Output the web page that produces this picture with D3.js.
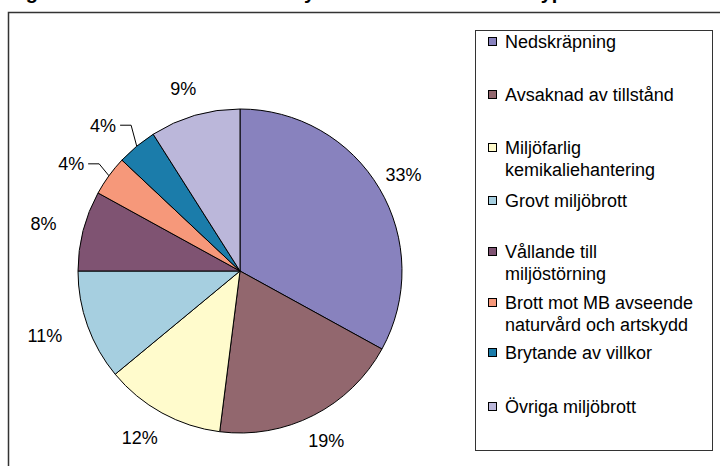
<!DOCTYPE html>
<html><head><meta charset="utf-8">
<script src="https://cdn.jsdelivr.net/npm/d3@7"></script>
<style>body{margin:0;background:#fff}svg{display:block}text{font-family:Arial,"Liberation Sans",sans-serif}</style>
</head><body>
<svg id="c" width="720" height="466"></svg>
<script>
const titleText = "Figur 4. Anmälda brott från tillsyn fördelade efter brottstyp";
const categories = ["Nedskräpning","Avsaknad av tillstånd","Miljöfarlig kemikaliehantering","Grovt miljöbrott","Vållande till miljöstörning","Brott mot MB avseende naturvård och artskydd","Brytande av villkor","Övriga miljöbrott"];
const legendLines = [["Nedskräpning"],["Avsaknad av tillstånd"],["Miljöfarlig","kemikaliehantering"],["Grovt miljöbrott"],["Vållande till","miljöstörning"],["Brott mot MB avseende","naturvård och artskydd"],["Brytande av villkor"],["Övriga miljöbrott"]];
const values = [33,19,12,11,8,4,4,9];
const colors = ["#8882BE","#92676E","#FFFBCC","#A6CFE0","#7F5372","#F6987A","#1B7CAA","#BBB7DA"];

const svg = d3.select("#c");
// title (mostly clipped at top)
svg.append("text").attr("x",8).attr("y",-1).attr("font-size",20).attr("font-weight","bold").attr("fill","#000").text(titleText);
// chart border
svg.append("rect").attr("x",8.5).attr("y",12.5).attr("width",760).attr("height",500)
  .attr("fill","none").attr("stroke","#333").attr("stroke-width",1.5);

const cx = 240, cy = 271, r = 162;
const g = svg.append("g").attr("transform",`translate(${cx},${cy})`);
const pie = d3.pie().sort(null).value(d=>d)(values);
const arc = d3.arc().innerRadius(0).outerRadius(r);
g.selectAll("path").data(pie).join("path")
  .attr("d",arc).attr("fill",(d,i)=>colors[i]).attr("stroke","#000").attr("stroke-width",1);

const total = d3.sum(values);
pie.forEach((d,i)=>{
  const mid = (d.startAngle+d.endAngle)/2;
  const small = values[i]/total < 0.05;
  const a = small ? d.startAngle + (d.endAngle-d.startAngle)*0.25 : mid;
  const R = small ? 200 : 190;
  let x = R*Math.sin(a), y = -R*Math.cos(a);
  const label = Math.round(values[i]/total*100)+"%";
  const t = g.append("text").attr("y",y).attr("dy","0.35em").attr("text-anchor","middle")
    .attr("font-size",18).attr("fill","#000").text(label);
  const w = t.node().getComputedTextLength();
  if (!small && Math.sin(a) < 0) x += (w/2)*Math.sin(a);
  t.attr("x",x);
  if (small) {
    const x0 = x+w/2+4, x1 = x0+11;
    const px = r*Math.sin(mid), py = -r*Math.cos(mid);
    g.append("path").attr("d",`M${x0},${y}L${x1},${y}L${px},${py}`).attr("fill","none").attr("stroke","#000").attr("stroke-width",1);
  }
});

// legend
const lg = svg.append("g");
lg.append("rect").attr("x",475.5).attr("y",30.5).attr("width",237).attr("height",420)
  .attr("fill","#fff").attr("stroke","#333").attr("stroke-width",1);
const baselines = [48,101,154,207,258,309,359,413];
categories.forEach((c,i)=>{
  const b = baselines[i];
  lg.append("rect").attr("x",488.5).attr("y",b-10.5).attr("width",8).attr("height",8)
    .attr("fill",colors[i]).attr("stroke","#000").attr("stroke-width",1);
  const t = lg.append("text").attr("x",505).attr("y",b).attr("font-size",18).attr("fill","#000");
  legendLines[i].forEach((l,j)=>t.append("tspan").attr("x",505).attr("dy", j?22:0).text(l));
});
</script>
</body></html>
